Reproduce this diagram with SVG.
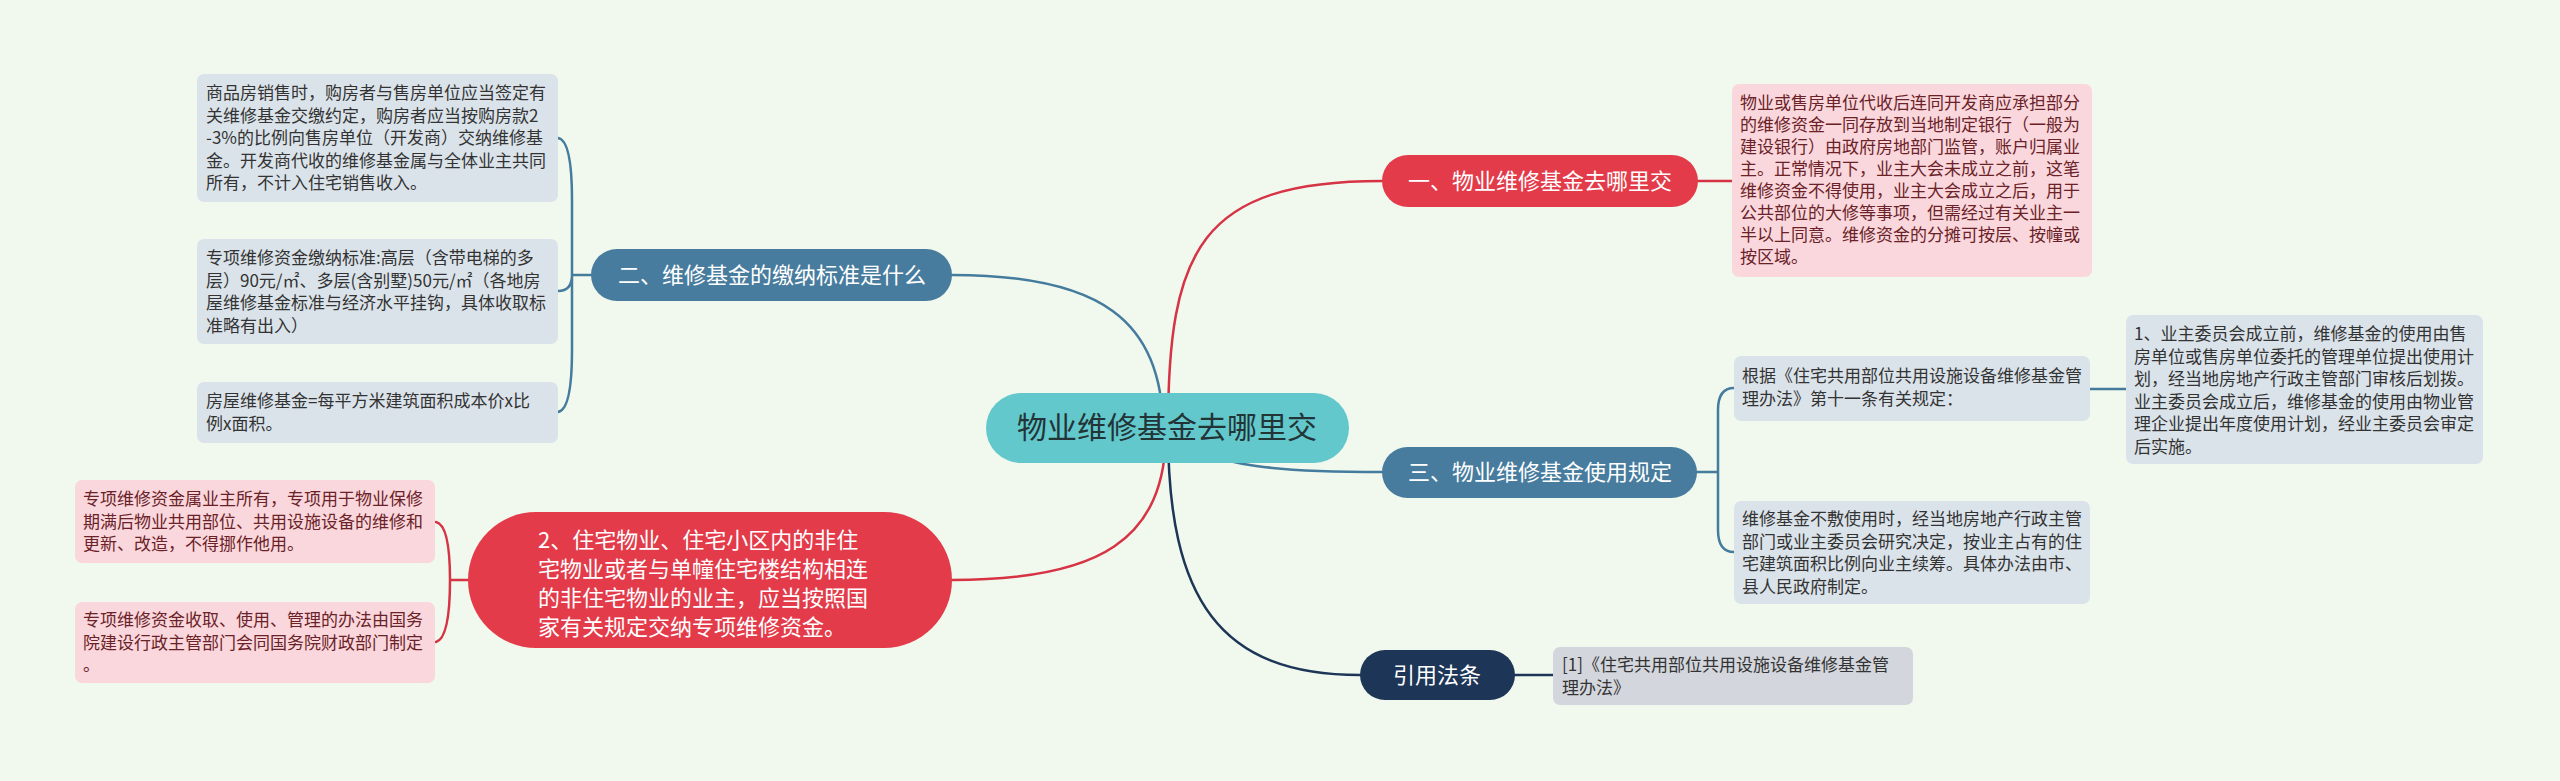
<svg xmlns="http://www.w3.org/2000/svg" width="2560" height="781" viewBox="0 0 2560 781">
<style>
text{font-family:"Noto Sans CJK SC","Noto Sans",sans-serif}
.leafb{fill:#dbe3ea}
.leafp{fill:#fad7dc}
.leafg{fill:#d3d7dd}
.tb{font-size:17px;fill:#333333}
.tp{font-size:17px;fill:#6a2228}
.tw{font-size:22px;fill:#ffffff}
.c{fill:none;stroke-width:2.5;stroke-linecap:round}
.cr{stroke:#d63344}
.cbl{stroke:#457b9d}
.cn{stroke:#1d3557}
</style>
<rect width="2560" height="781" fill="#f1f9ee"/>
<g id="connectors">
<path class="c cr" d="M1168,430 C1168,250 1200,181 1382,181"/>
<path class="c cbl" d="M1163,430 C1163,320 1100,275 952,275"/>
<path class="c cbl" d="M1167,430 C1200,470 1300,472 1382,472"/>
<path class="c cr" d="M1166,430 C1166,540 1100,580 952,580"/>
<path class="c cn" d="M1168,430 C1168,600 1220,675 1360,675"/>
<path class="c cr" d="M1698,181 L1732,181"/>
<path class="c cbl" d="M591,275 L572,275 M572,275 L572,200 Q572,140 558,138 M572,275 Q572,291 558,291 M572,275 L572,350 Q572,410 558,412"/>
<path class="c cr" d="M468,580 L450,580 M450,580 Q450,525 436,522 M450,580 Q450,638 436,642"/>
<path class="c cbl" d="M1697,472 L1718,472 M1718,472 L1718,410 Q1718,388 1734,388 M1718,472 L1718,530 Q1718,552 1734,552"/>
<path class="c cbl" d="M2090,389 L2126,389"/>
<path class="c cn" d="M1515,675 L1553,675"/>
</g>
<g id="center">
<rect x="986" y="393" width="363" height="70" rx="35" fill="#62c8cc"/>
<text x="1167" y="438" font-size="30" fill="#233436" text-anchor="middle">物业维修基金去哪里交</text>
</g>
<g id="n1">
<rect x="1382" y="155" width="316" height="52" rx="26" fill="#e33b4a"/>
<text class="tw" x="1540" y="189" text-anchor="middle">一、物业维修基金去哪里交</text>
</g>
<g id="n2">
<rect x="591" y="249" width="361" height="52" rx="26" fill="#477c9e"/>
<text class="tw" x="772" y="283" text-anchor="middle">二、维修基金的缴纳标准是什么</text>
</g>
<g id="n3">
<rect x="1382" y="447" width="315" height="51" rx="25.5" fill="#477c9e"/>
<text class="tw" x="1540" y="480" text-anchor="middle">三、物业维修基金使用规定</text>
</g>
<g id="n4">
<rect x="1360" y="650" width="155" height="50" rx="25" fill="#1d3557"/>
<text class="tw" x="1437" y="683" text-anchor="middle">引用法条</text>
</g>
<g id="n5">
<rect x="468" y="512" width="484" height="136" rx="68" fill="#e33b4a"/>
<text class="tw"><tspan x="538" y="548">2、住宅物业、住宅小区内的非住</tspan><tspan x="538" y="577">宅物业或者与单幢住宅楼结构相连</tspan><tspan x="538" y="606">的非住宅物业的业主，应当按照国</tspan><tspan x="538" y="635">家有关规定交纳专项维修资金。</tspan></text>
</g>
<g id="leafA">
<rect class="leafb" x="197" y="74" width="361" height="128" rx="7"/>
<text class="tb"><tspan x="206" y="99">商品房销售时，购房者与售房单位应当签定有</tspan><tspan x="206" y="121.5">关维修基金交缴约定，购房者应当按购房款2</tspan><tspan x="206" y="144">-3%的比例向售房单位（开发商）交纳维修基</tspan><tspan x="206" y="166.5">金。开发商代收的维修基金属与全体业主共同</tspan><tspan x="206" y="189">所有，不计入住宅销售收入。</tspan></text>
</g>
<g id="leafB">
<rect class="leafb" x="197" y="239" width="361" height="105" rx="7"/>
<text class="tb"><tspan x="206" y="264">专项维修资金缴纳标准:高层（含带电梯的多</tspan><tspan x="206" y="286.5">层）90元/㎡、多层(含别墅)50元/㎡（各地房</tspan><tspan x="206" y="309">屋维修基金标准与经济水平挂钩，具体收取标</tspan><tspan x="206" y="331.5">准略有出入）</tspan></text>
</g>
<g id="leafC">
<rect class="leafb" x="197" y="382" width="361" height="61" rx="7"/>
<text class="tb"><tspan x="206" y="407">房屋维修基金=每平方米建筑面积成本价x比</tspan><tspan x="206" y="429.5">例x面积。</tspan></text>
</g>
<g id="leafD">
<rect class="leafp" x="75" y="480" width="360" height="83" rx="7"/>
<text class="tp"><tspan x="83" y="505">专项维修资金属业主所有，专项用于物业保修</tspan><tspan x="83" y="527.5">期满后物业共用部位、共用设施设备的维修和</tspan><tspan x="83" y="550">更新、改造，不得挪作他用。</tspan></text>
</g>
<g id="leafE">
<rect class="leafp" x="75" y="602" width="360" height="81" rx="7"/>
<text class="tp"><tspan x="83" y="626">专项维修资金收取、使用、管理的办法由国务</tspan><tspan x="83" y="648.5">院建设行政主管部门会同国务院财政部门制定</tspan><tspan x="83" y="671">。</tspan></text>
</g>
<g id="leaf1">
<rect class="leafp" x="1732" y="84" width="360" height="193" rx="7"/>
<text class="tp"><tspan x="1740" y="109">物业或售房单位代收后连同开发商应承担部分</tspan><tspan x="1740" y="131">的维修资金一同存放到当地制定银行（一般为</tspan><tspan x="1740" y="153">建设银行）由政府房地部门监管，账户归属业</tspan><tspan x="1740" y="175">主。正常情况下，业主大会未成立之前，这笔</tspan><tspan x="1740" y="197">维修资金不得使用，业主大会成立之后，用于</tspan><tspan x="1740" y="219">公共部位的大修等事项，但需经过有关业主一</tspan><tspan x="1740" y="241">半以上同意。维修资金的分摊可按层、按幢或</tspan><tspan x="1740" y="263">按区域。</tspan></text>
</g>
<g id="leafF">
<rect class="leafb" x="1734" y="356" width="356" height="65" rx="7"/>
<text class="tb"><tspan x="1742" y="382">根据《住宅共用部位共用设施设备维修基金管</tspan><tspan x="1742" y="404.5">理办法》第十一条有关规定：</tspan></text>
</g>
<g id="leafG">
<rect class="leafb" x="1734" y="501" width="356" height="103" rx="7"/>
<text class="tb"><tspan x="1742" y="525">维修基金不敷使用时，经当地房地产行政主管</tspan><tspan x="1742" y="547.5">部门或业主委员会研究决定，按业主占有的住</tspan><tspan x="1742" y="570">宅建筑面积比例向业主续筹。具体办法由市、</tspan><tspan x="1742" y="592.5">县人民政府制定。</tspan></text>
</g>
<g id="leafH">
<rect class="leafb" x="2126" y="315" width="357" height="149" rx="7"/>
<text class="tb"><tspan x="2134" y="340">1、业主委员会成立前，维修基金的使用由售</tspan><tspan x="2134" y="362.5">房单位或售房单位委托的管理单位提出使用计</tspan><tspan x="2134" y="385">划，经当地房地产行政主管部门审核后划拨。</tspan><tspan x="2134" y="407.5">业主委员会成立后，维修基金的使用由物业管</tspan><tspan x="2134" y="430">理企业提出年度使用计划，经业主委员会审定</tspan><tspan x="2134" y="452.5">后实施。</tspan></text>
</g>
<g id="leafRef">
<rect class="leafg" x="1553" y="647" width="360" height="58" rx="7"/>
<text class="tb"><tspan x="1562" y="671">[1]《住宅共用部位共用设施设备维修基金管</tspan><tspan x="1562" y="693.5">理办法》</tspan></text>
</g>
</svg>
